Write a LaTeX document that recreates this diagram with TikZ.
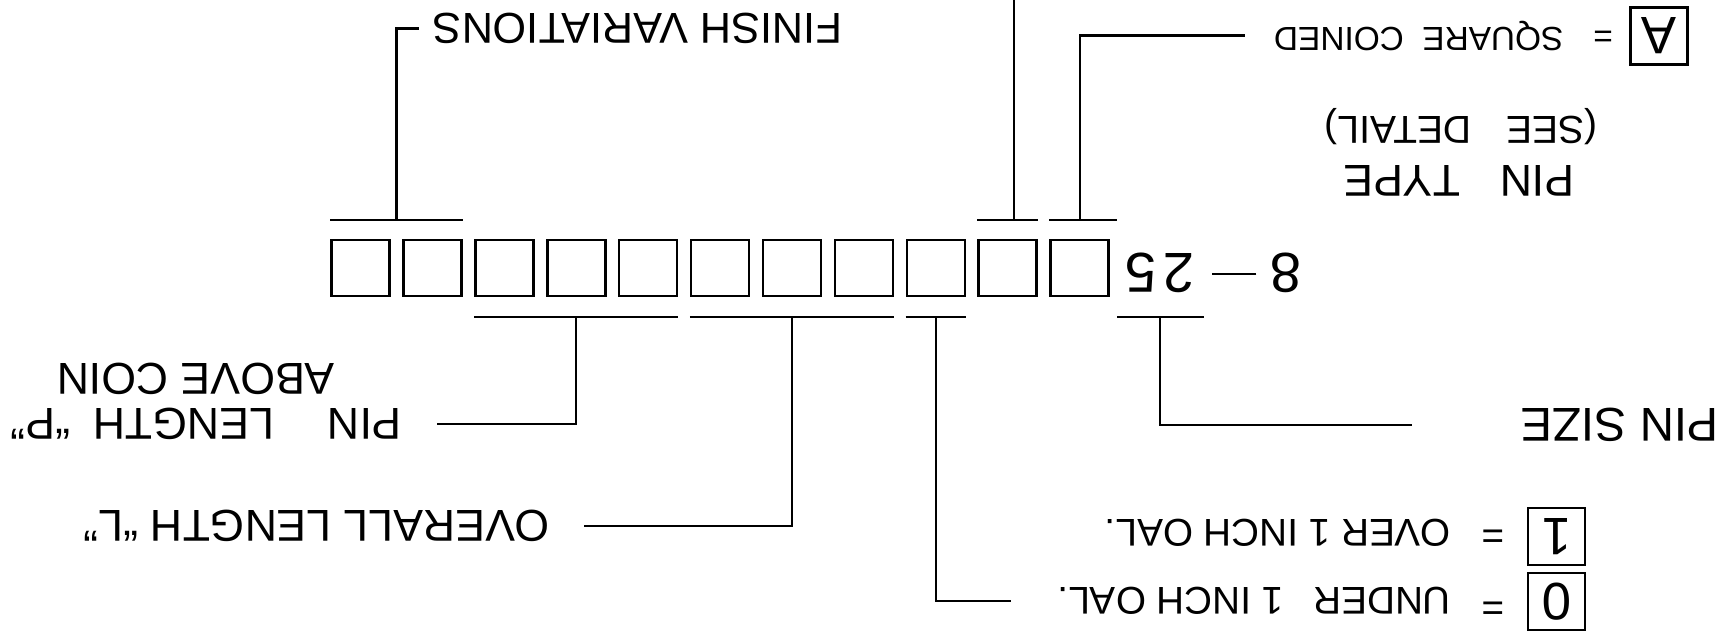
\documentclass[tikz,border=0pt]{standalone}
\usepackage{fontspec}
\setmainfont{Liberation Sans}
\usetikzlibrary{calc}
\newcommand{\txtsize}[1]{\fontsize{#1}{#1}\selectfont}
\tikzset{lbl/.style={rotate=180, inner sep=0pt, font=\txtsize{12.7}},
  cell/.style={draw, line width=0.7pt, minimum width=5.8mm,
  minimum height=5.6mm, inner sep=0pt},
  key/.style={cell, rotate=180, minimum width=5.7mm,
  minimum height=5.7mm, font=\txtsize{15}}}

\begin{document}
\begin{tikzpicture}[line width=0.6pt]
  \useasboundingbox (0,0) rectangle (17.28,-6.40);
  % code boxes
  \foreach \i in {0,...,10}
    \node[cell] (b\i) at ({3.606+0.719*\i}, -2.68) {};
  \node[lbl, font=\txtsize{16}] (pre) at (12.57,-2.73)
    {8\kern4pt\rule[5.6pt]{12.5pt}{0.6pt}};
  \node[lbl, font=\txtsize{16}] (sz) at (11.60,-2.73) {2\kern2pt5};
  \coordinate (cut) at (10.14,0);
  % labels
  \node[lbl, font=\txtsize{12.3}, anchor=east] (fin) at (4.32,-0.285)
    {FINISH VARIATIONS};
  \node[lbl, font=\txtsize{9.5}, anchor=east] (sq) at (12.73,-0.355)
    {SQUARE\ \ COINED};
  \node[lbl, font=\txtsize{9.5}] (eqa) at (16.03,-0.34) {=};
  \node[key] (ka) at (16.59,-0.36) {A};
  \node[lbl, font=\txtsize{11.1}] (sd) at (14.61,-1.27)
    {(SEE\hspace{.9em}DETAIL)};
  \node[lbl] (pt) at (14.59,-1.81) {PIN\hspace{.9em}TYPE};
  \node[lbl, font=\txtsize{13.5}] (psz) at (16.20,-4.25) {PIN SIZE};
  \node[lbl, font=\txtsize{11}, anchor=west] (ov1) at (14.52,-5.325)
    {OVER 1 INCH OAL.};
  \node[lbl, font=\txtsize{11}, anchor=west] (un) at (14.52,-6.01)
    {UNDER\hspace{.5em} 1 INCH OAL.};
  \node[lbl, font=\txtsize{11}] (e1) at (14.93,-5.33) {=};
  \node[lbl, font=\txtsize{11}] (e0) at (14.93,-6.05) {=};
  \node[key] (k1) at (15.565,-5.365) {1};
  \node[key] (k0) at (15.565,-6.015) {0};
  \node[lbl] (ac) at (1.96,-3.79) {ABOVE COIN};
  \node[lbl, anchor=west] (pl) at (4.03,-4.24)
    {PIN\hspace{1.2em}LENGTH\hspace{.5em}“P”};
  \node[lbl, anchor=west] (ov) at (5.51,-5.26) {OVERALL LENGTH “L”};
  % brackets above
  \draw ($(b0.north west)+(0,.19)$) -- ($(b1.north east)+(0,.19)$);
  \draw ($(b0.north)!.5!(b1.north)+(0,.19)$) |- ([xshift=-1.3mm]fin.east);
  \draw ($(b9.north west)+(0,.19)$) -- ($(b9.north east)+(0,.19)$);
  \draw ($(b9.north)+(.06,.19)$) |- (cut);
  \draw ($(b10.north west)+(0,.19)$) -- ($(b10.north east)+(.07,.19)$);
  \draw ($(b10.north)+(0,.19)$) |- ([xshift=-2.8mm]sq.east);
  % brackets below
  \draw ($(b2.south west)+(0,-.2)$) -- ($(b4.south east)+(0,-.2)$);
  \draw ($(b3.south)+(0,-.2)$) |- ([xshift=3.4mm]pl.west);
  \draw ($(b5.south west)+(0,-.2)$) -- ($(b7.south east)+(0,-.2)$);
  \draw ($(b6.south)+(0,-.2)$) |- ([xshift=3.3mm]ov.west);
  \draw ($(b8.south west)+(0,-.2)$) -- ($(b8.south east)+(0,-.2)$);
  \draw ($(b8.south)+(0,-.2)$) |- ([xshift=-4.6mm]un.east);
  \draw ([xshift=-.7mm, yshift=-2.3mm]sz.north east)
    -- ([xshift=.8mm, yshift=-2.3mm]sz.north west);
  \draw ([yshift=-2.3mm]sz.north) |- ([xshift=-10.8mm]psz.east);
\end{tikzpicture}
\end{document}
